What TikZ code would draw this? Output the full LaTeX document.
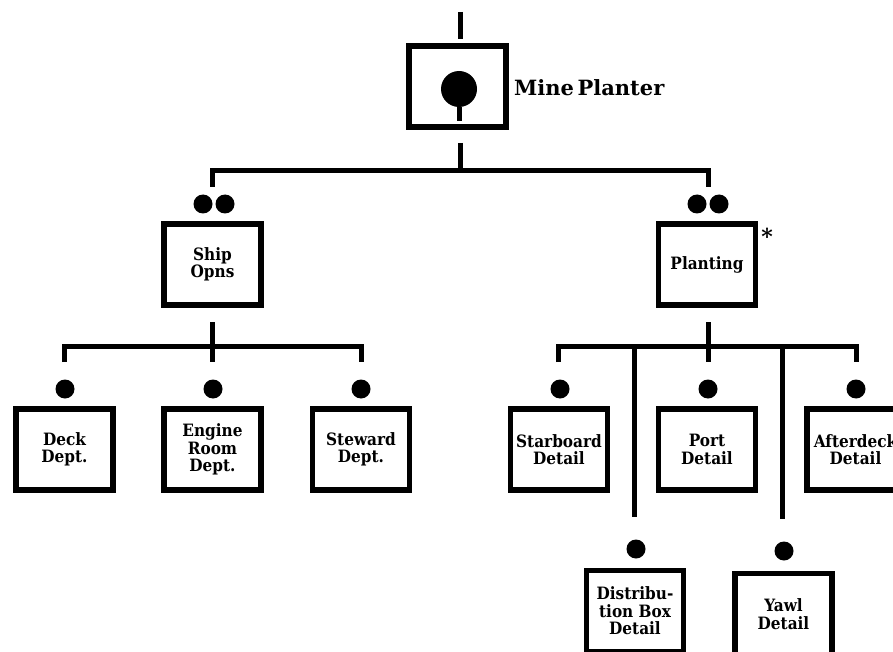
\documentclass[tikz,border=0pt]{standalone}
\usepackage{fontspec}
\setmainfont{DejaVu Serif}
\newfontfamily\boxfont{DejaVu Serif Condensed}
\usetikzlibrary{positioning}

\begin{document}
\begin{tikzpicture}[
    x=1pt, y=-1pt,
    unit/.style   = {rectangle, draw, line width=5.5pt, minimum width=97pt, minimum height=81pt, inner sep=0pt, align=center, font=\boxfont\bfseries\fontsize{17}{17.5}\selectfont},
    dot/.style    = {circle, fill, inner sep=0pt, minimum size=19pt},
    link/.style   = {line width=5pt},
    label/.style  = {font=\bfseries\fontsize{16.5}{17.5}\selectfont, inner sep=0pt}
]
    \clip (0,0) rectangle (893,652);

    % --- Satuan Induk ---
    \node (mine) [unit] at (457.5,86.5) {};
    \node (mine_ball) [dot, minimum size=36pt] at (459,89) {};
    \node (mine_txt) [label, anchor=west, font=\bfseries\fontsize{21}{22}\selectfont] at (514,88) {Mine\,Planter};
    \coordinate (mine_in) at (460,12);
    \coordinate (mine_top) at (460,39);
    \coordinate (mine_out) at (460,143);
    \coordinate (bus0) at (460,171);
    \coordinate (bus0_l) at (212,171);
    \coordinate (bus0_r) at (708,171);

    % --- Peleton ---
    \node (ship_d1) [dot] at (203,204) {};
    \node (ship_d2) [dot] at (225,204) {};
    \node (ship)    [unit] at (212.5,264.5) {Ship\\Opns};
    \node (plant_d1) [dot] at (697,204) {};
    \node (plant_d2) [dot] at (719,204) {};
    \node (plant)    [unit] at (707,264.5) {Planting};
    \node (star)     [label, font=\bfseries\fontsize{22}{22}\selectfont] at (767,236) {*};

    % --- Seksi Ship Opns ---
    \node (deck_d)    [dot] at (65,389) {};
    \node (engine_d)  [dot] at (213,389) {};
    \node (steward_d) [dot] at (361,389) {};
    \node (deck)    [unit] at (64.5,449.5) {Deck\\Dept.};
    \node (engine)  [unit] at (212.5,449.5) {Engine\\Room\\Dept.};
    \node (steward) [unit] at (361,449.5) {Steward\\Dept.};

    % --- Seksi Planting ---
    \node (stbd_d)  [dot] at (560,389) {};
    \node (port_d)  [dot] at (708,389) {};
    \node (aft_d)   [dot] at (856,389) {};
    \node (stbd)    [unit] at (559,449.5) {Starboard\\Detail};
    \node (port)    [unit] at (707,449.5) {Port\\Detail};
    \node (aft)     [unit] at (855.5,449.5) {Afterdeck\\Detail};
    \node (dbox_d)  [dot] at (636,549) {};
    \node (yawl_d)  [dot] at (784,551) {};
    \node (dbox)    [unit] at (635,611) {Distribu-\\tion Box\\Detail};
    \node (yawl)    [unit] at (783.5,614) {Yawl\\Detail};

    % --- Titik Jalur ---
    \coordinate (ship_out) at (212,322);
    \coordinate (ship_end) at (212,362);
    \coordinate (bus1_l) at (64,346);
    \coordinate (bus1_r) at (361,346);
    \coordinate (plant_out) at (708,322);
    \coordinate (plant_end) at (708,362);
    \coordinate (bus2_l) at (558,346);
    \coordinate (bus2_r) at (856,346);
    \coordinate (dbox_top) at (634,346);
    \coordinate (dbox_end) at (634,517);
    \coordinate (yawl_top) at (782,346);
    \coordinate (yawl_end) at (782,519);

    % --- Garis ---
    \draw [link] (mine_in) -- (mine_top);
    \draw [link] (mine_ball.south) -- ++(0,14);
    \draw [link] (mine_out) -- (bus0);
    \draw [link] ([yshift=-16pt]bus0_l) -- (bus0_l) -- (bus0_r) -- ([yshift=-16pt]bus0_r);

    \draw [link] (ship_out) -- (ship_end);
    \draw [link] ([yshift=-16pt]bus1_l) -- (bus1_l) -- (bus1_r) -- ([yshift=-16pt]bus1_r);

    \draw [link] (plant_out) -- (plant_end);
    \draw [link] ([yshift=-16pt]bus2_l) -- (bus2_l) -- (bus2_r) -- ([yshift=-16pt]bus2_r);
    \draw [link] (dbox_top) -- (dbox_end);
    \draw [link] (yawl_top) -- (yawl_end);

\end{tikzpicture}
\end{document}
